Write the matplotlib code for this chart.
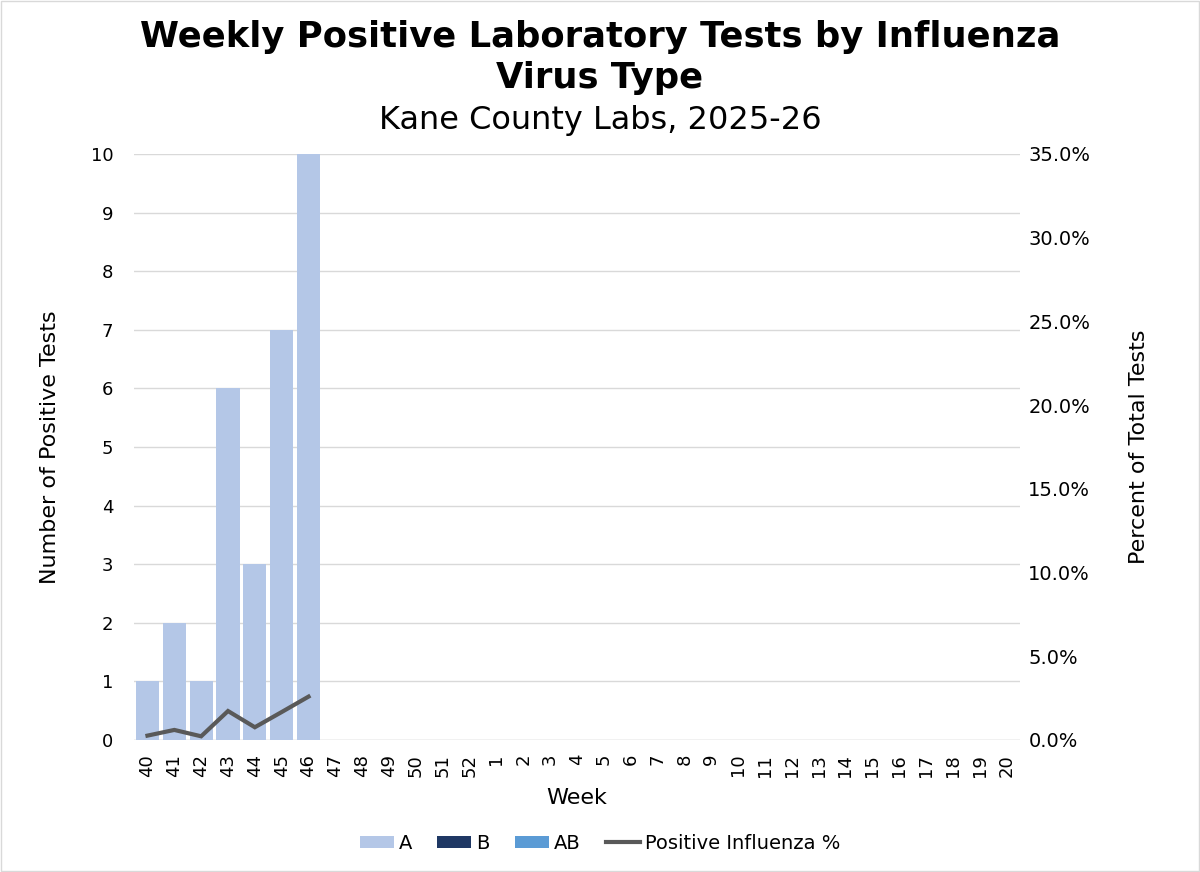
import matplotlib.pyplot as plt
from matplotlib.patches import Rectangle

plt.rcParams['font.family'] = ['DejaVu Sans']

# weeks of the 2025-26 season
weeks = ['40', '41', '42', '43', '44', '45', '46', '47', '48', '49', '50', '51', '52',
         '1', '2', '3', '4', '5', '6', '7', '8', '9', '10', '11', '12', '13', '14',
         '15', '16', '17', '18', '19', '20']
flu_a = [1, 2, 1, 6, 3, 7, 10] + [0] * 26
flu_b = [0] * 33
flu_ab = [0] * 33
# percent positive, reported only for weeks so far
pct_positive = [0.26, 0.60, 0.22, 1.73, 0.76, 1.67, 2.59]

fig = plt.figure(figsize=(12, 8.72), dpi=100)
fig.patches.append(Rectangle((0.001, 0.001), 0.998, 0.998, transform=fig.transFigure,
                             fill=False, edgecolor='#d9d9d9', linewidth=1))
ax = fig.add_axes([0.1117, 0.1514, 0.7383, 0.672])
ax2 = ax.twinx()

x = list(range(len(weeks)))
w = 0.86
ax.bar(x, flu_a, width=w, color='#B4C7E7', label='A', zorder=2)
ax.bar(x, flu_b, width=w, bottom=flu_a, color='#1F3864', label='B', zorder=2)
bottom_ab = [a + b for a, b in zip(flu_a, flu_b)]
ax.bar(x, flu_ab, width=w, bottom=bottom_ab, color='#5B9BD5', label='AB', zorder=2)
ax2.plot(x[:len(pct_positive)], pct_positive, color='#595959', linewidth=3,
         label='Positive Influenza %', solid_joinstyle='miter')

ax.set_xlim(-0.5, len(weeks) - 0.5)
ax.set_ylim(0, 10)
ax.set_yticks(range(0, 11))
ax2.set_ylim(0, 35)
ax2.set_yticks(range(0, 36, 5))
ax2.set_yticklabels([f'{v:.1f}%' for v in range(0, 36, 5)])

ax.set_xticks(x)
ax.set_xticklabels(weeks, rotation=90)
ax.grid(axis='y', color='#d9d9d9', linewidth=1, zorder=0)
ax.set_axisbelow(True)

for a in (ax, ax2):
    for s in ('top', 'left', 'right', 'bottom'):
        a.spines[s].set_visible(False)
    a.tick_params(length=0, labelsize=13, colors='black')
ax2.tick_params(axis='y', labelsize=14)
ax.axhline(0, color='#d9d9d9', linewidth=1, zorder=1)
ax.tick_params(axis='y', pad=15)
ax2.tick_params(axis='y', pad=6)
ax.tick_params(axis='x', pad=10)

ax.set_ylabel('Number of Positive Tests', fontsize=16, labelpad=22)
ax2.set_ylabel('Percent of Total Tests', fontsize=16, labelpad=28)
ax.set_xlabel('Week', fontsize=16, labelpad=8)

fig.text(0.5, 0.934, 'Weekly Positive Laboratory Tests by Influenza\nVirus Type',
         ha='center', va='center', fontsize=25.5, fontweight='bold', linespacing=1.25)
fig.text(0.5, 0.862, 'Kane County Labs, 2025-26', ha='center', va='center', fontsize=23)

h1, l1 = ax.get_legend_handles_labels()
h2, l2 = ax2.get_legend_handles_labels()
fig.legend(h1 + h2, l1 + l2, loc='center', bbox_to_anchor=(0.5, 0.033), ncol=4,
           frameon=False, fontsize=14, handlelength=1.75, handleheight=0.55,
           columnspacing=1.3, handletextpad=0.25)

fig.savefig('out.png')
